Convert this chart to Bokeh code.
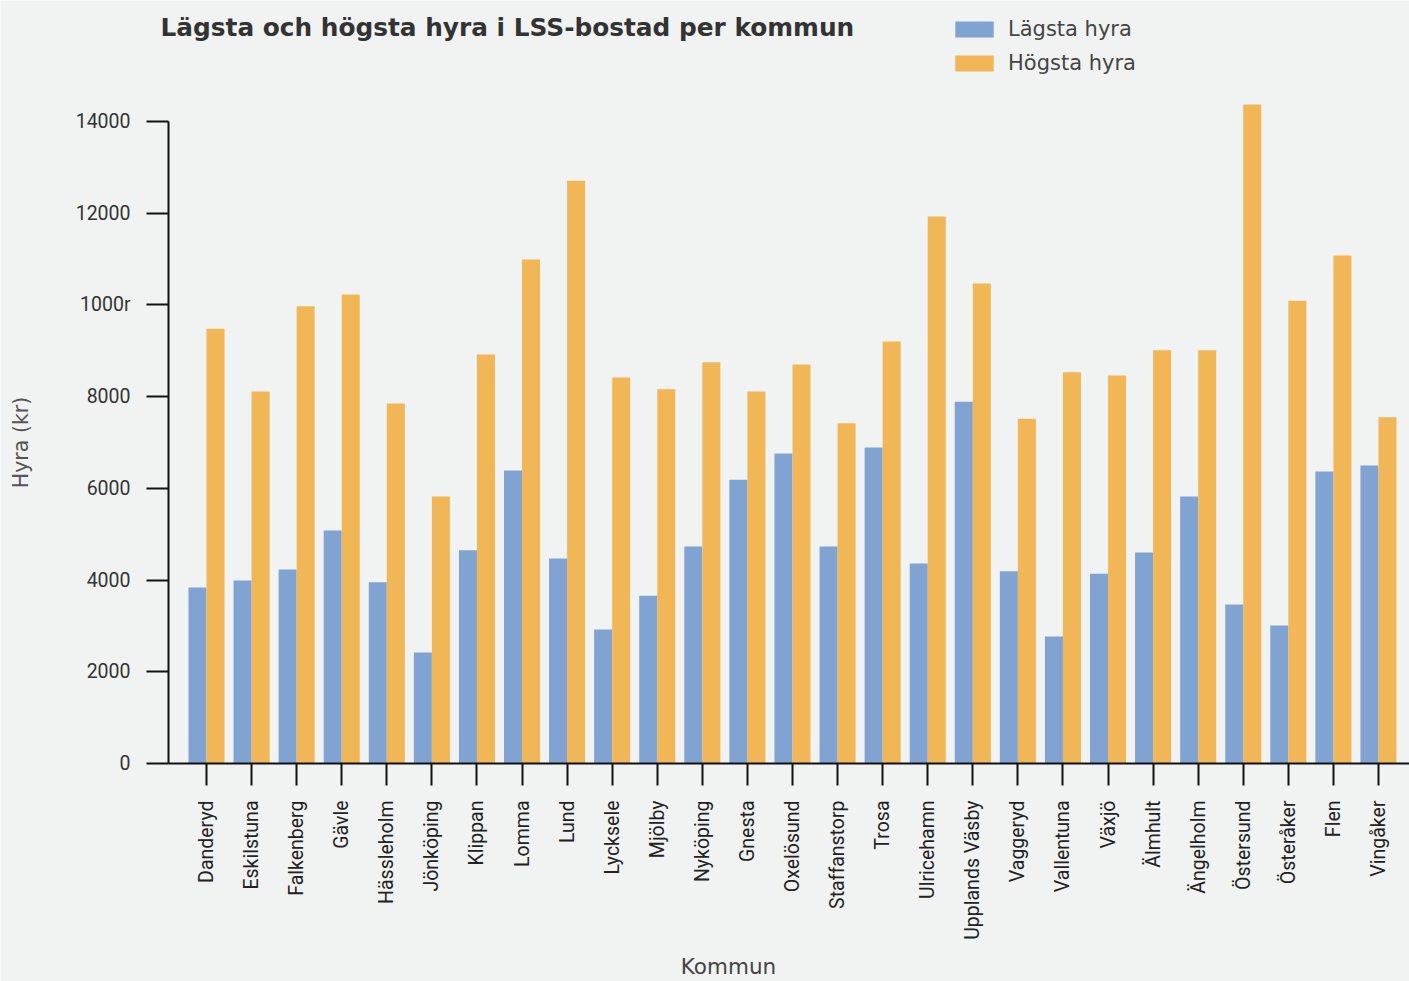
import math
from bokeh.plotting import figure
from bokeh.models import (ColumnDataSource, Range1d, FixedTicker, Label, Legend, LegendItem)
from bokeh.transform import dodge
from bokeh.embed import file_html
from bokeh.resources import INLINE

kommuner = ["Danderyd", "Eskilstuna", "Falkenberg", "Gävle", "Hässleholm", "Jönköping",
            "Klippan", "Lomma", "Lund", "Lycksele", "Mjölby", "Nyköping", "Gnesta",
            "Oxelösund", "Staffanstorp", "Trosa", "Ulricehamn", "Upplands Väsby", "Vaggeryd",
            "Vallentuna", "Växjö", "Älmhult", "Ängelholm", "Östersund", "Österåker", "Flen",
            "Vingåker"]
lagsta = [3840, 3990, 4230, 5080, 3950, 2420, 4650, 6390, 4470, 2920, 3660, 4730, 6190,
          6760, 4730, 6890, 4360, 7890, 4190, 2770, 4140, 4600, 5820, 3470, 3010, 6370, 6500]
hogsta = [9480, 8110, 9970, 10230, 7850, 5820, 8920, 10990, 12710, 8420, 8160, 8750, 8110,
          8700, 7420, 9200, 11930, 10470, 7520, 8530, 8460, 9010, 9010, 14370, 10090, 11080, 7550]
y_ticks = [0, 2000, 4000, 6000, 8000, 10000, 12000, 14000]
y_tick_labels = {10000: "1000r"}

BG = "#f0f3f2"
BLUE = "#80a3d2"
ORANGE = "#f1b757"
W, H = 1409, 981

src = ColumnDataSource(dict(x=list(range(len(kommuner))), low=lagsta, high=hogsta))

# the frame fills the whole canvas; axes are drawn at fixed locations inside it
p = figure(width=W, height=H, output_backend="svg", toolbar_location=None,
           x_range=Range1d(-4.570, 26.688), y_range=Range1d(-4754, 16639),
           min_border_left=0, min_border_right=0, min_border_top=0, min_border_bottom=0)
p.background_fill_color = BG
p.border_fill_color = BG
p.outline_line_color = None
p.grid.visible = False

r1 = p.vbar(x=dodge("x", -0.2, range=p.x_range), top="low", width=0.4, source=src,
            fill_color=BLUE, line_color=None)
r2 = p.vbar(x=dodge("x", 0.2, range=p.x_range), top="high", width=0.4, source=src,
            fill_color=ORANGE, line_color=None)

# x axis
xa = p.xaxis[0]
xa.fixed_location = 0
xa.bounds = (-0.843, 26.688)
xa.ticker = FixedTicker(ticks=list(range(len(kommuner))))
xa.major_label_overrides = {i: k for i, k in enumerate(kommuner)}
xa.major_label_orientation = math.pi / 2
xa.major_label_text_font = "Roboto"
xa.major_label_text_font_size = "19.5px"
xa.major_label_text_color = "#222222"
xa.major_label_standoff = 15
xa.major_tick_out = 22
xa.major_tick_in = 0
xa.minor_tick_out = 0
xa.minor_tick_in = 0
xa.axis_line_width = 2
xa.axis_line_color = "#111111"
xa.major_tick_line_width = 2
xa.major_tick_line_color = "#111111"

# y axis
ya = p.yaxis[0]
ya.fixed_location = -0.843
ya.ticker = FixedTicker(ticks=y_ticks)
ya.bounds = (0, 14000)
ya.major_label_overrides = y_tick_labels
ya.major_label_text_font = "Roboto"
ya.major_label_text_font_size = "19.5px"
ya.major_label_text_color = "#333333"
ya.major_label_standoff = 16
ya.major_tick_out = 22
ya.major_tick_in = 0
ya.minor_tick_out = 0
ya.minor_tick_in = 0
ya.axis_line_width = 2
ya.axis_line_color = "#111111"
ya.major_tick_line_width = 2
ya.major_tick_line_color = "#111111"

# axis titles
p.add_layout(Label(x=20, y=H - 442, x_units="screen", y_units="screen", text="Hyra (kr)",
                   angle=math.pi / 2, text_font="DejaVu Sans", text_font_size="20.5px",
                   text_color="#555555", text_align="center", text_baseline="middle"))
p.add_layout(Label(x=728, y=H - 966, x_units="screen", y_units="screen", text="Kommun",
                   text_font="DejaVu Sans", text_font_size="21.5px",
                   text_color="#444444", text_align="center", text_baseline="middle"))

# chart title
p.add_layout(Label(x=160, y=H - 27, x_units="screen", y_units="screen",
                   text="Lägsta och högsta hyra i LSS-bostad per kommun",
                   text_font="DejaVu Sans", text_font_style="bold", text_font_size="24.8px",
                   text_color="#333333", text_baseline="middle", text_align="left"))

legend = Legend(items=[LegendItem(label="Lägsta hyra", renderers=[r1]),
                       LegendItem(label="Högsta hyra", renderers=[r2])],
                location=(950, H - 75), orientation="vertical",
                glyph_width=48, glyph_height=20, label_height=20, spacing=10,
                label_standoff=10, padding=0, margin=0,
                label_text_font="DejaVu Sans", label_text_font_size="21px",
                label_text_color="#444444", label_text_baseline="middle",
                border_line_color=None, background_fill_alpha=0)
p.add_layout(legend, "center")

open("out.html", "w").write(file_html(p, INLINE))
